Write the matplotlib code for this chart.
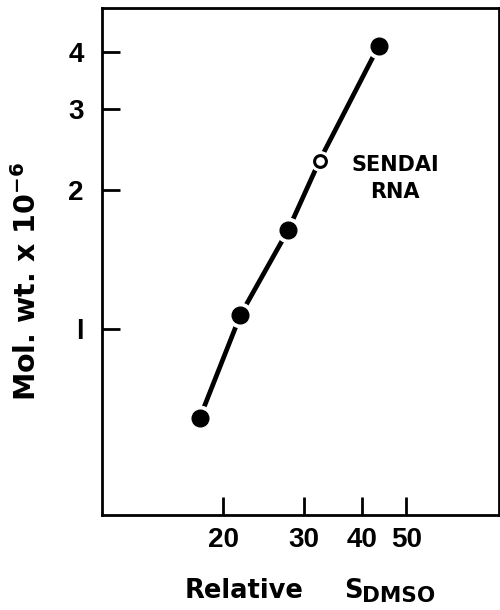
import matplotlib
matplotlib.use("Agg")
import matplotlib.pyplot as plt
from matplotlib.ticker import FixedLocator, NullLocator, FixedFormatter

# values (log-log)
s_dmso = [17.8, 21.8, 27.7, 32.4, 43.6]
mol_wt = [0.64, 1.07, 1.64, 2.32, 4.13]
is_open = [False, False, False, True, False]

x_ticks = [20, 30, 40, 50]
y_ticks = [1, 2, 3, 4]

fig = plt.figure(figsize=(5, 6.1), dpi=100)
ax = fig.add_axes([0.204, 0.156, 0.794, 0.831])
ax.set_xscale("log")
ax.set_yscale("log")
ax.set_xlim(10.9, 79.6)
ax.set_ylim(0.393, 4.99)

# connecting line, with white halos so it stops short of each point
ax.plot(s_dmso, mol_wt, color="black", lw=3.4, solid_capstyle="butt", zorder=1)
filled_x = [x for x, o in zip(s_dmso, is_open) if not o]
filled_y = [y for y, o in zip(mol_wt, is_open) if not o]
open_x = [x for x, o in zip(s_dmso, is_open) if o]
open_y = [y for y, o in zip(mol_wt, is_open) if o]
ax.plot(filled_x, filled_y, "o", color="white", ms=17.5, zorder=2)
ax.plot(open_x, open_y, "o", color="white", ms=14, zorder=2)
ax.plot(filled_x, filled_y, "o", color="black", ms=12, zorder=3)
ax.plot(open_x, open_y, "o", mfc="white", mec="black", ms=8.5, mew=2.2, zorder=3)

ax.text(47.3, 2.12, "SENDAI\nRNA", ha="center", va="center",
        fontsize=15, fontweight="bold", family="DejaVu Sans", linespacing=1.4)

for sp in ax.spines.values():
    sp.set_linewidth(2.0)

ax.xaxis.set_major_locator(FixedLocator(x_ticks))
ax.xaxis.set_major_formatter(FixedFormatter([str(t) for t in x_ticks]))
ax.xaxis.set_minor_locator(NullLocator())
ax.yaxis.set_major_locator(FixedLocator(y_ticks))
ax.yaxis.set_major_formatter(FixedFormatter(["l", "2", "3", "4"]))
ax.yaxis.set_minor_locator(NullLocator())
ax.tick_params(axis="x", direction="in", length=13, width=2, pad=9, labelsize=20)
ax.tick_params(axis="y", direction="in", length=13, width=2, pad=13, labelsize=20)
for lab in ax.get_xticklabels() + ax.get_yticklabels():
    lab.set_fontweight("bold")
    lab.set_family("Liberation Sans")

# axis titles
fig.text(0.37, 0.0197, "Relative", fontsize=18.5, fontweight="bold",
         family="DejaVu Sans", ha="left", va="baseline")
fig.text(0.688, 0.0197, "S", fontsize=18.5, fontweight="bold",
         family="DejaVu Sans", ha="left", va="baseline")
fig.text(0.724, 0.013, "DMSO", fontsize=15.5, fontweight="bold",
         family="DejaVu Sans", ha="left", va="baseline")

fig.text(0.054, 0.539, r"Mol. wt. x 10$^{\mathbf{-6}}$", rotation=90, fontsize=20.5,
         fontweight="bold", family="DejaVu Sans", ha="center", va="center")

fig.savefig("out.png", dpi=100)
